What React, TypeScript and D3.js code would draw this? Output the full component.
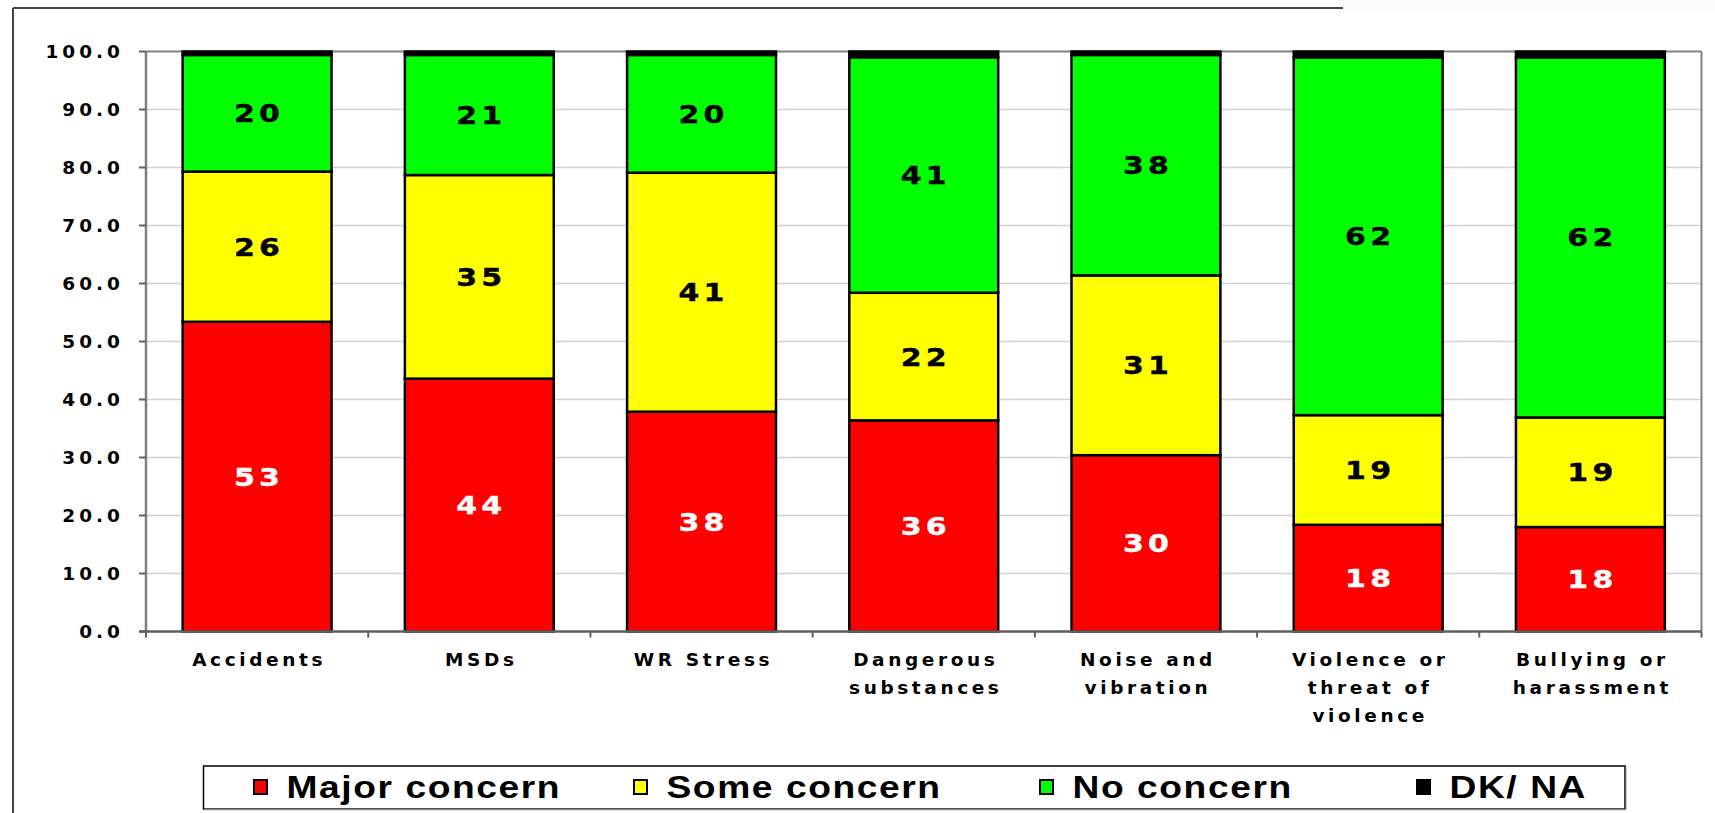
import React from "react";
import * as d3 from "d3";

const categories = [
  "Accidents",
  "MSDs",
  "WR Stress",
  "Dangerous substances",
  "Noise and vibration",
  "Violence or threat of violence",
  "Bullying or harassment",
];
const categoryLines = [
  ["Accidents"],
  ["MSDs"],
  ["WR Stress"],
  ["Dangerous", "substances"],
  ["Noise and", "vibration"],
  ["Violence or", "threat of", "violence"],
  ["Bullying or", "harassment"],
];
const majorConcern = [53.4, 43.6, 37.9, 36.4, 30.4, 18.4, 18.0];
const someConcern = [25.9, 35.1, 41.2, 22.0, 31.0, 18.9, 18.9];
const noConcern = [20.1, 20.7, 20.3, 40.6, 38.0, 61.7, 62.1];
const dkNa = [0.6, 0.6, 0.6, 1.0, 0.6, 1.0, 1.0];
const seriesNames = ["Major concern", "Some concern", "No concern", "DK/ NA"];
const seriesColors = ["#ff0000", "#ffff00", "#00ff00", "#000000"];
const labelColors = ["#ffffff", "#000000", "#000000", null];
const yTicks = [0, 10, 20, 30, 40, 50, 60, 70, 80, 90, 100];

const W = 1715;
const H = 813;
const left = 146;
const right = 1701.5;
const top = 51.5;
const bottom = 631.5;
const legendSwatchX = [254, 634, 1040, 1417];

export default function App() {
  const x = d3
    .scaleBand<string>()
    .domain(categories)
    .range([left, right])
    .paddingInner(0.33)
    .paddingOuter(0.165);
  const y = d3.scaleLinear().domain([0, 100]).range([bottom, top]);

  const table = categories.map((c, i) => ({
    cat: c,
    major: majorConcern[i],
    some: someConcern[i],
    no: noConcern[i],
    dk: dkNa[i],
  }));
  const stack = d3.stack<any>().keys(["major", "some", "no", "dk"])(table);
  const step = x.step();
  const boundaries = d3.range(categories.length + 1).map((i) => left + i * step);

  return (
    <svg
      width={W}
      height={H}
      style={{ position: "absolute", left: 0, top: 0, background: "#fff" }}
    >
      <rect x={1343} y={0} width={372} height={13} fill="#fcfcfc" />
      <line x1={13} y1={8} x2={1343} y2={8} stroke="#444" strokeWidth={2} />
      <line x1={13} y1={8} x2={13} y2={H} stroke="#444" strokeWidth={2} />

      {/* gridlines */}
      {yTicks
        .filter((t) => t > 0 && t < 100)
        .map((t) => (
          <line key={t} x1={left} x2={right} y1={y(t)} y2={y(t)} stroke="#d2d2d2" strokeWidth={1.5} />
        ))}
      <line x1={left} x2={right} y1={y(100)} y2={y(100)} stroke="#808080" strokeWidth={2} />
      <line x1={right} x2={right} y1={top} y2={bottom} stroke="#808080" strokeWidth={2} />

      {/* bars */}
      {stack.map((layer, si) =>
        layer.map((d, i) => {
          const x0 = x(categories[i])!;
          const bw = x.bandwidth();
          const y0 = y(d[1]);
          const h = y(d[0]) - y(d[1]);
          return (
            <rect
              key={`${si}-${i}`}
              x={x0}
              y={y0}
              width={bw}
              height={h}
              fill={seriesColors[si]}
              stroke="#000"
              strokeWidth={2.5}
            />
          );
        })
      )}

      {/* data labels */}
      {stack.map((layer, si) =>
        labelColors[si] === null
          ? null
          : layer.map((d, i) => {
              const cx = x(categories[i])! + x.bandwidth() / 2;
              const cy = (y(d[0]) + y(d[1])) / 2;
              const v = Math.round(d[1] - d[0]);
              return (
                <text
                  key={`l${si}-${i}`}
                  transform={`translate(${cx + 2},${cy}) scale(1.2,1)`}
                  textAnchor="middle"
                  dy="0.36em"
                  fontFamily="DejaVu Sans"
                  fontWeight="bold"
                  fontSize={25}
                  letterSpacing={3.5}
                  fill={labelColors[si] as string}
                  stroke={labelColors[si] as string}
                  strokeWidth={0.4}
                >
                  {v}
                </text>
              );
            })
      )}

      {/* axes */}
      <line x1={left} x2={left} y1={top} y2={bottom} stroke="#808080" strokeWidth={2.5} />
      <line x1={left - 7} x2={right} y1={bottom} y2={bottom} stroke="#606060" strokeWidth={2.5} />
      {yTicks.map((t) => (
        <g key={`yt${t}`}>
          <line x1={left - 7} x2={left} y1={y(t)} y2={y(t)} stroke="#606060" strokeWidth={2} />
          <text
            x={124}
            y={y(t)}
            dy="0.36em"
            textAnchor="end"
            fontFamily="DejaVu Sans"
            fontWeight="bold"
            fontSize={18.5}
            letterSpacing={4}
            fill="#000"
          >
            {d3.format(".1f")(t)}
          </text>
        </g>
      ))}
      {boundaries.map((bx, i) => (
        <line key={`xt${i}`} x1={bx} x2={bx} y1={bottom} y2={bottom + 6} stroke="#606060" strokeWidth={2} />
      ))}
      {categoryLines.map((lines, i) => {
        const cx = x(categories[i])! + x.bandwidth() / 2 + 2;
        return (
          <text
            key={`c${i}`}
            textAnchor="middle"
            fontFamily="DejaVu Sans"
            fontWeight="bold"
            fontSize={18.5}
            letterSpacing={3.6}
            fill="#000"
          >
            {lines.map((ln, j) => (
              <tspan key={j} x={cx} y={665.5 + j * 28}>
                {ln}
              </tspan>
            ))}
          </text>
        );
      })}

      {/* legend */}
      <rect x={203.5} y={766} width={1421.5} height={43} fill="#fff" stroke="#000" strokeWidth={1.5} />
      <line x1={204} x2={1626} y1={809.5} y2={809.5} stroke="#888" strokeWidth={1.5} />
      <line x1={1626} x2={1626} y1={767} y2={810} stroke="#888" strokeWidth={1} />
      {seriesNames.map((name, i) => (
        <g key={`lg${i}`}>
          <rect
            x={legendSwatchX[i]}
            y={780}
            width={13}
            height={14}
            fill={seriesColors[i]}
            stroke="#000"
            strokeWidth={2}
          />
          <text
            transform={`translate(${legendSwatchX[i] + 32.5},797.5) scale(1.2,1)`}
            fontFamily="Liberation Sans"
            fontWeight="bold"
            fontSize={31}
            letterSpacing={1.3}
            fill="#000"
          >
            {name}
          </text>
        </g>
      ))}
    </svg>
  );
}
